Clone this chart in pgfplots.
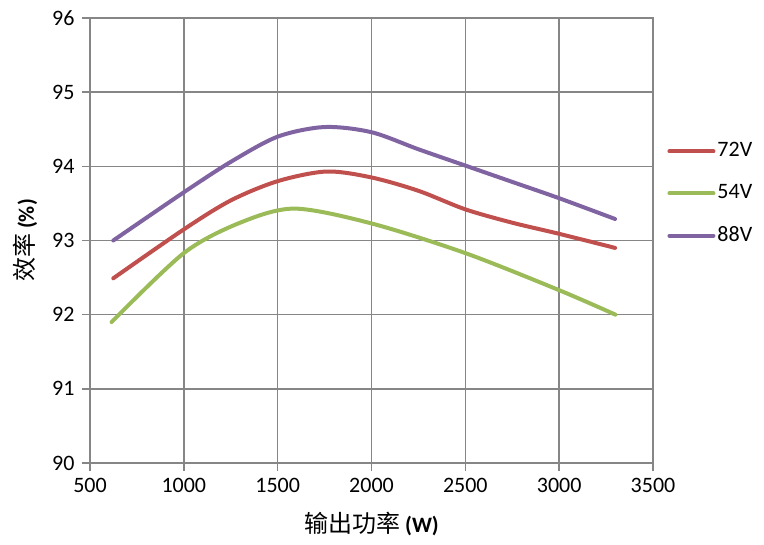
\documentclass[border=0pt]{standalone}
\usepackage{pgfplots}
\pgfplotsset{compat=1.18}
\usepackage{fontspec}
\setmainfont{Carlito}
\newfontfamily\cjk{Noto Sans CJK SC}
\definecolor{c72}{HTML}{C0504D}
\definecolor{c54}{HTML}{9BBB59}
\definecolor{c88}{HTML}{8064A2}
\definecolor{gridgray}{HTML}{868686}
\begin{document}
\fontsize{22bp}{26bp}\selectfont
\begin{tikzpicture}
\useasboundingbox (-90bp,-82bp) rectangle (674bp,463bp);
\begin{axis}[
  at={(0,0)}, anchor=south west,
  scale only axis, width=563bp, height=445bp,
  xmin=500, xmax=3500, ymin=90, ymax=96,
  xtick={500,1000,...,3500}, ytick={90,91,...,96},
  grid=major, grid style={line width=1.5bp, gridgray},
  axis line style={line width=1.5bp, gridgray},
  tick style={line width=1.5bp, gridgray},
  tick align=outside, tick pos=left, major tick length=8bp,
  /pgf/number format/assume math mode=true,
  /pgf/number format/1000 sep={},
  ticklabel style={font=\fontsize{22bp}{26bp}\selectfont, text=black},
  label style={font=\fontsize{22bp}{26bp}\selectfont, text=black},
  xlabel={{\cjk\fontsize{24bp}{26bp}\selectfont 输出功率} \textbf{(W)}},
  ylabel={{\cjk\fontsize{24bp}{26bp}\selectfont 效率} \textbf{(\%)}},
  xlabel style={yshift=-4bp},
  legend style={draw=none, fill=none, at={(1.02,0.605)}, anchor=west,
    font=\fontsize{22bp}{26bp}\selectfont, row sep=20.5bp,
    legend cell align=left},
  legend image code/.code={\draw[#1, line width=4bp, line cap=round] (0bp,0bp) -- (44bp,0bp);},
]
\addplot[c72, line width=4bp, smooth, line cap=round] coordinates {
 (624,92.49) (1000,93.15) (1250,93.54) (1500,93.80) (1760,93.93) (2000,93.85) (2250,93.67) (2500,93.42) (2750,93.24) (3000,93.09) (3298,92.90)};
\addlegendentry{72V}
\addplot[c54, line width=4bp, smooth, line cap=round] coordinates {
 (615,91.90) (1000,92.83) (1300,93.24) (1590,93.43) (2000,93.23) (2500,92.83) (3000,92.33) (3300,92.00)};
\addlegendentry{54V}
\addplot[c88, line width=4bp, smooth, line cap=round] coordinates {
 (624,93.00) (1000,93.65) (1250,94.06) (1500,94.40) (1750,94.53) (2000,94.46) (2250,94.23) (2500,94.01) (2750,93.79) (3000,93.57) (3298,93.29)};
\addlegendentry{88V}
\end{axis}
\end{tikzpicture}
\end{document}
